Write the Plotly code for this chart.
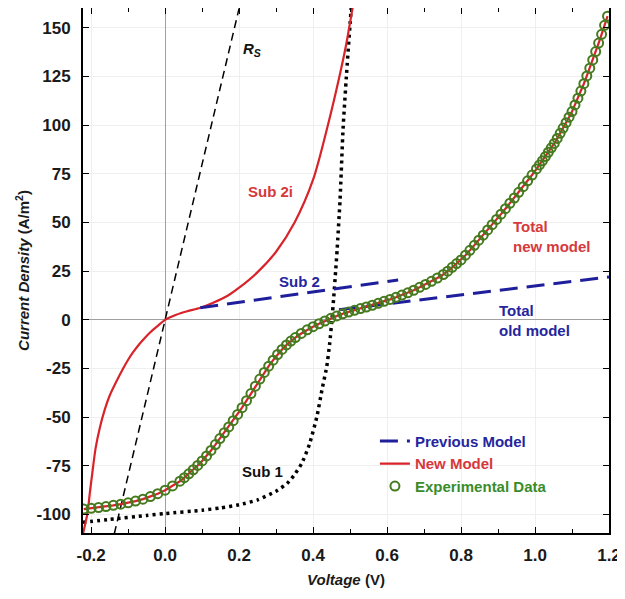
import plotly.graph_objects as go

# ---------------- data ----------------
# Experimental data (green circles) / total new model
exp_v = [-0.22, -0.20, -0.18, -0.16, -0.14, -0.12, -0.10, -0.08, -0.06, -0.04, -0.02, 0.00, 0.02, 0.04,
         0.052, 0.064, 0.076, 0.088, 0.100, 0.112, 0.124, 0.136, 0.148, 0.160, 0.172, 0.184, 0.196,
         0.208, 0.220, 0.232, 0.244, 0.256, 0.268, 0.280, 0.292, 0.304, 0.316, 0.328, 0.340, 0.352,
         0.368, 0.384, 0.400, 0.416, 0.432, 0.448, 0.464, 0.480, 0.496, 0.512, 0.528, 0.544, 0.560,
         0.576, 0.592, 0.608, 0.624, 0.640, 0.656, 0.672, 0.688, 0.704, 0.720, 0.736, 0.752,
         0.764, 0.776, 0.788, 0.800, 0.812, 0.824, 0.836, 0.848, 0.860, 0.872, 0.884, 0.896, 0.908,
         0.920, 0.932, 0.944, 0.956, 0.968, 0.980, 0.992, 1.004,
         1.012, 1.020, 1.028, 1.036, 1.044, 1.052, 1.060, 1.068, 1.076, 1.084, 1.092, 1.100, 1.108,
         1.116, 1.124, 1.132, 1.140, 1.148, 1.156, 1.164, 1.172, 1.180, 1.188, 1.196]
exp_j = [-97.2, -96.8, -96.4, -95.9, -95.3, -94.7, -94.0, -93.1, -92.1, -90.8, -89.3, -87.5, -85.3, -82.9,
         -81.1, -79.1, -77.0, -74.8, -72.5, -69.9, -67.1, -64.1, -61.0, -58.0, -55.0, -51.8, -48.6,
         -45.1, -41.5, -37.9, -34.1, -30.4, -27.0, -23.8, -20.7, -17.8, -15.2, -12.9, -10.9, -9.1,
         -7.0, -5.1, -3.5, -2.0, -0.6, 0.8, 2.0, 3.1, 4.0, 4.9, 5.8, 6.6, 7.5,
         8.5, 9.5, 10.5, 11.6, 12.7, 13.9, 15.2, 16.7, 18.2, 19.8, 21.5, 23.3,
         25.0, 27.0, 28.9, 30.8, 33.2, 35.7, 38.3, 40.9, 43.5, 46.2, 48.9, 51.6, 54.3,
         57.1, 59.9, 62.6, 65.5, 68.4, 71.4, 74.4, 77.5,
         79.6, 81.7, 83.9, 86.1, 88.4, 90.6, 93.2, 95.8, 98.5, 101.3, 104.1, 107.0, 110.4,
         113.9, 117.5, 121.3, 125.3, 129.3, 133.5, 137.8, 142.2, 146.7, 151.3, 156.0]

# Sub 2i (red)
sub2i_v = [-0.222, -0.215, -0.21, -0.203, -0.197, -0.188, -0.176, -0.163, -0.15, -0.13, -0.115, -0.10,
           -0.086, -0.07, -0.055, -0.04, -0.02, 0.0, 0.03, 0.06, 0.095, 0.13, 0.17, 0.20, 0.25,
           0.30, 0.35, 0.40, 0.44, 0.47, 0.49, 0.51]
sub2i_j = [-110, -104, -99.5, -88, -79, -66, -55, -46, -39, -31, -25.5, -20.5,
           -16.5, -12.5, -9.3, -6.4, -3.1, 0.0, 2.6, 4.4, 6.2, 8.8, 12.5, 16.5, 24.5,
           35, 50, 72, 100, 124, 142, 164]

# Sub 1 (black dotted)
sub1_v = [-0.222, -0.15, -0.05, 0.0, 0.1, 0.15, 0.2, 0.25, 0.3, 0.33, 0.35, 0.37, 0.39, 0.41,
          0.425, 0.437, 0.445, 0.451, 0.456, 0.461, 0.465, 0.473, 0.481, 0.49, 0.50, 0.506]
sub1_j = [-104, -102.5, -100.5, -99.5, -97.8, -96.6, -95, -92.5, -88, -84, -79.5, -73.5, -64, -50,
          -35, -24, -12, 0, 12, 25, 36, 62, 98, 125, 152, 168]

# Series resistance line R_S (black dashed)
rs_v = [-0.1375, 0.2]
rs_j = [-110, 160]

# Sub 2 (blue dashed)
sub2_v = [0.095, 0.63]
sub2_j = [6.2, 20.5]

# Total old model (blue dashed)
old_v = [0.47, 1.2]
old_j = [5.2, 22.0]

x_ticks = [-0.2, 0.0, 0.2, 0.4, 0.6, 0.8, 1.0, 1.2]
x_ticktext = ["-0.2", "0.0", "0.2", "0.4", "0.6", "0.8", "1.0", "1.2"]
y_ticks = [-100, -75, -50, -25, 0, 25, 50, 75, 100, 125, 150]
y_ticktext = ["-100", "-75", "-50", "-25", "0", "25", "50", "75", "100", "125", "150"]

RED = "#d8232a"
BLUE = "#1f1f9c"
GREEN = "#457a1e"
TXT_RED = "#d6393b"
TXT_BLUE = "#25259e"
TXT_GREEN = "#3a8c2a"

fig = go.Figure()

fig.add_trace(go.Scatter(x=rs_v, y=rs_j, mode="lines", showlegend=False,
                         line=dict(color="black", width=1.5, dash="8px,5px")))
fig.add_trace(go.Scatter(x=sub1_v, y=sub1_j, mode="lines", showlegend=False,
                         line=dict(color="black", width=3.5, dash="3px,4px",
                                   shape="spline", smoothing=0.5)))
fig.add_trace(go.Scatter(x=sub2i_v, y=sub2i_j, mode="lines", showlegend=False,
                         line=dict(color=RED, width=2.2, shape="spline", smoothing=0.8)))
fig.add_trace(go.Scatter(x=sub2_v, y=sub2_j, mode="lines", showlegend=False,
                         line=dict(color=BLUE, width=3, dash="18px,9px")))
fig.add_trace(go.Scatter(x=old_v, y=old_j, mode="lines",
                         name=f"<span style='color:{TXT_BLUE}'>Previous Model</span>",
                         line=dict(color=BLUE, width=3, dash="18px,9px")))
fig.add_trace(go.Scatter(x=exp_v, y=exp_j, mode="lines",
                         name=f"<span style='color:{TXT_RED}'>New Model</span>",
                         line=dict(color=RED, width=2.2)))
fig.add_trace(go.Scatter(x=exp_v, y=exp_j, mode="markers",
                         name=f"<span style='color:{TXT_GREEN}'>Experimental Data</span>",
                         marker=dict(symbol="circle-open", size=9, color=GREEN,
                                     line=dict(width=2, color=GREEN))))

ann_font = dict(family="Liberation Sans, Arial", size=15, weight="bold")
annotations = [
    dict(x=0.236, y=139, text="<i>R<sub>S</sub></i>", font=dict(ann_font, color="#111111")),
    dict(x=0.284, y=66, text="Sub 2i", font=dict(ann_font, color=TXT_RED)),
    dict(x=0.362, y=19.6, text="Sub 2", font=dict(ann_font, color=TXT_BLUE)),
    dict(x=0.263, y=-78, text="Sub 1", font=dict(ann_font, color="#111111")),
    dict(x=0.935, y=43, text="Total<br>new model", align="left", xanchor="left",
         font=dict(ann_font, color=TXT_RED)),
    dict(x=0.898, y=-0.5, text="Total<br>old model", align="left", xanchor="left",
         font=dict(ann_font, color=TXT_BLUE)),
]
for a in annotations:
    a.update(xref="x", yref="y", showarrow=False)
    a.setdefault("xanchor", "center")
    a["yanchor"] = "middle"

tick_font = dict(family="Liberation Sans, Arial", size=17, weight="bold", color="#1a1a1a")
title_font = dict(family="Liberation Sans, Arial", size=15, weight="bold", color="#1a1a1a")

# The page body has an 8px margin, so the figure is sized to fit inside the 625x599 window.
fig.update_layout(
    width=617, height=583,
    margin=dict(l=75, r=16, t=0, b=58, autoexpand=False),
    paper_bgcolor="white", plot_bgcolor="white",
    annotations=annotations,
    legend=dict(x=0.555, y=0.206, xanchor="left", yanchor="top",
                bgcolor="rgba(0,0,0,0)", borderwidth=0, tracegroupgap=0,
                font=dict(family="Liberation Sans, Arial", size=15, weight="bold")),
)

fig.update_xaxes(
    range=[-0.222, 1.2], tickvals=x_ticks, ticktext=x_ticktext,
    ticks="inside", ticklen=6, tickwidth=1.2, tickcolor="black", ticklabelstandoff=6,
    minor=dict(dtick=0.1, tick0=0, ticks="inside", ticklen=4, tickcolor="black", showgrid=False),
    showline=True, linewidth=2, linecolor="black", mirror="ticks",
    showgrid=True, gridcolor="#efefef", gridwidth=1,
    zeroline=True, zerolinecolor="#a0a0a0", zerolinewidth=1,
    tickfont=tick_font, automargin=False, ticklabeloverflow="allow",
    title=dict(text="<i>Voltage</i> (V)", font=title_font, standoff=10),
)
fig.update_yaxes(
    range=[-109.5, 160.2], tickvals=y_ticks, ticktext=y_ticktext,
    ticks="inside", ticklen=6, tickwidth=1.2, tickcolor="black", ticklabelstandoff=7,
    showline=True, linewidth=2, linecolor="black", mirror="ticks",
    showgrid=True, gridcolor="#efefef", gridwidth=1,
    zeroline=True, zerolinecolor="#a0a0a0", zerolinewidth=1,
    tickfont=tick_font, automargin=False,
    title=dict(text="<i>Current Density</i> (A/m<sup>2</sup>)", font=title_font, standoff=3),
)

fig.write_html("out.html")
